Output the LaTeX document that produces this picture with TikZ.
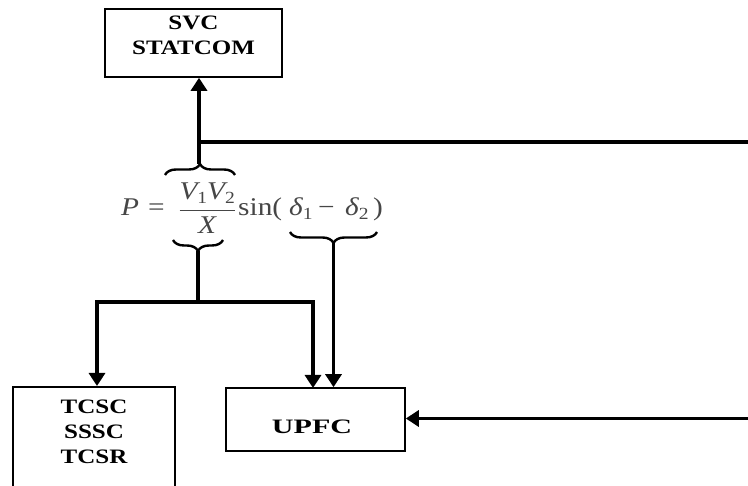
\documentclass[tikz,border=0pt]{standalone}
\usepackage{fontspec}
\usepackage{graphicx}
\setmainfont{Liberation Serif}
\newfontfamily\boxfont[FakeStretch=1.22]{Liberation Serif Bold}
\newfontfamily\eqfont[FakeStretch=1.15]{Liberation Serif}
\usetikzlibrary{arrows.meta,decorations.pathreplacing}
\definecolor{eqgray}{RGB}{70,70,70}
\tikzset{
  boxframe/.style={draw=black, line width=1.6pt, inner sep=0pt},
  boxlabel/.style={font=\boxfont\fontsize{20.5}{25}\selectfont, align=center, inner sep=0pt},
  conn/.style={line width=3.2pt},
  arr/.style={line width=3.2pt, -{Triangle[length=13pt,width=16pt]}},
  bracestyle/.style={line width=2.4pt, decorate, decoration={brace, amplitude=11pt}},
}
\newcommand{\eqsub}[1]{\raisebox{-4pt}{\fontsize{17}{17}\selectfont\upshape #1}}
\begin{document}
\begin{tikzpicture}[x=1pt,y=-1pt]
\clip (0,0) rectangle (748,486);
\useasboundingbox (0,0) rectangle (748,486);
% boxes
\node[boxframe, minimum width=177pt, minimum height=68pt] (svc) at (193.5,43) {};
\node[boxlabel] (svct) at (193.5,35.5) {SVC\\STATCOM};
\node[boxframe, minimum width=162pt, minimum height=120pt, anchor=north] (tcsc) at (94,386) {};
\node[boxlabel] (tcsct) at (94,431.5) {TCSC\\SSSC\\TCSR};
\node[boxframe, minimum width=179pt, minimum height=63pt] (upfc) at (315.5,419.5) {};
\node[boxlabel] (upfct) at (312,426.5) {\scalebox{1.2}[1]{UPFC}};
% formula
\node[anchor=base west, inner sep=0pt, text=eqgray] (eq) at (121,216)
  {\eqfont\fontsize{25.5}{30}\selectfont
   \makebox[27pt][l]{\itshape P}%
   \makebox[28pt][l]{=}%
   \makebox[62pt][c]{$\displaystyle\frac{\mbox{\eqfont\itshape V\eqsub{1}V\eqsub{2}}}{\mbox{\eqfont\itshape X}}$}%
   \makebox[51pt][l]{sin(}%
   \makebox[29pt][l]{\itshape δ\eqsub{1}}%
   \makebox[27pt][l]{−}%
   \makebox[28pt][l]{\itshape δ\eqsub{2}}%
   )};
% braces
\coordinate (b1l) at (165,175);
\coordinate (b1r) at (235,175);
\coordinate (b2l) at (173,240);
\coordinate (b2r) at (223,240);
\coordinate (b3l) at (290,232);
\coordinate (b3r) at (377,232);
\draw[bracestyle] (b1l) -- (b1r);
\draw[bracestyle] (b2r) -- (b2l);
\draw[bracestyle] (b3r) -- (b3l);
% tips
\coordinate (t1) at (199,164);
\coordinate (t2) at (198,251);
\coordinate (t3) at (333.5,243);
\coordinate (r1) at (748,142);
\coordinate (r2) at (748,418.5);
\coordinate (j) at (198,302);
\coordinate (d1) at (97,386);
\coordinate (d2) at (313,388);
% connectors
\draw[arr] (t1) -- (t1 |- svc.south);
\draw[conn] (t1 |- r1) -- (r1);
\draw[conn] (t2) -- (j);
\draw[arr] (j) -| (d1);
\draw[arr] (j) -| (d2);
\draw[arr] (t3) -- (t3 |- upfc.north);
\draw[arr] (r2) -- (r2 -| upfc.east);
\end{tikzpicture}
\end{document}
